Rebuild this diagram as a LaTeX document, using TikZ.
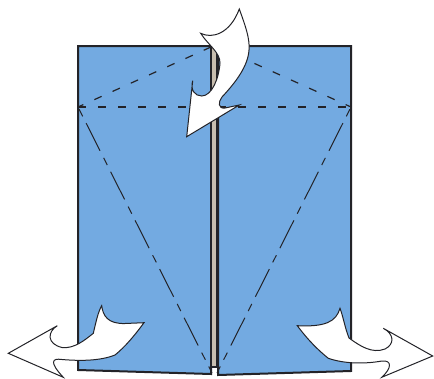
\documentclass[tikz,border=0pt]{standalone}
\usepackage{tikz}
\definecolor{paperblue}{RGB}{115,170,225}
\definecolor{stripgray}{RGB}{200,190,175}
\definecolor{foldink}{RGB}{35,35,40}

\begin{document}
\begin{tikzpicture}[x=1pt,y=-1pt,
        panel/.style={draw=foldink,line width=2pt,fill=paperblue,line join=miter},
        strip/.style={draw=foldink,line width=1.4pt,fill=stripgray},
        valley/.style={draw=foldink,line width=1.2pt,dash pattern=on 8pt off 12pt},
        mountain/.style={draw=foldink,line width=1pt,dash pattern=on 31pt off 8pt on 8pt off 7.5pt,dash phase=36.5pt},
        bigarrow/.style={draw=foldink,line width=1pt,fill=white,line join=miter}
      ]
        \useasboundingbox (0,0) rectangle (434,378);

        \coordinate (tl) at (78,46);
        \coordinate (bl) at (78,370);
        \coordinate (tr) at (351,46);
        \coordinate (br) at (351,371);
        \coordinate (ml) at (78,107);
        \coordinate (mr) at (351,107);

        % paper
        \draw[panel] (tl) -- (211,46) -- (211,374) -- (bl) -- cycle;
        \draw[panel] (218,46) -- (tr) -- (br) -- (218,375) -- cycle;
        \draw[strip] (211.5,46) rectangle (217,367);

        % fold lines
        \draw[valley] (211,47) -- (ml);
        \draw[valley] (218,47) -- (mr);
        \draw[valley] (ml) -- (mr);
        \draw[mountain] (ml) -- (212,373);
        \draw[mountain] (mr) -- (217,373);

        % arrows
        \draw[bigarrow] (239.3,9) .. controls (245,25) and (250,38) .. (249,50)
          .. controls (248,66) and (236,82) .. (222,97)
          .. controls (218,102) and (218,109) .. (225,108)
          -- (239.3,105) -- (186.7,136.7) -- (192.7,80.7)
          .. controls (190,90) and (195,96) .. (201.7,96)
          .. controls (212,96) and (219,78) .. (220,63)
          .. controls (220,52) and (208,45) .. (200.7,33.3)
          .. controls (212,39) and (230,34) .. (239.3,9) -- cycle;
        \draw[bigarrow] (8.3,353.3) -- (57.3,325.7)
          .. controls (47,332) and (47,344) .. (62,347.5)
          .. controls (74,349) and (85,340) .. (93.3,333.3)
          .. controls (96,322) and (98,312) .. (101.7,305.7)
          .. controls (103,316) and (108,324) .. (125,323.5)
          -- (144,322.7)
          .. controls (135,335) and (125,347) .. (115,355)
          .. controls (100,361) and (80,361) .. (62,359.5)
          .. controls (52,358) and (49,362) .. (63.3,377.3) -- cycle;
        \draw[bigarrow] (432.7,356) -- (383.3,328.3)
          .. controls (394,334) and (395,344) .. (385,349)
          .. controls (372,354) and (360,346) .. (349,338)
          .. controls (345,328) and (343,316) .. (340,308.3)
          .. controls (336,322) and (325,327) .. (297.3,325.7)
          .. controls (308,340) and (318,350) .. (328.3,358.3)
          .. controls (345,364) and (365,364) .. (382,361)
          .. controls (392,360) and (392,368) .. (381.7,377.3) -- cycle;
      \end{tikzpicture}
\end{document}
